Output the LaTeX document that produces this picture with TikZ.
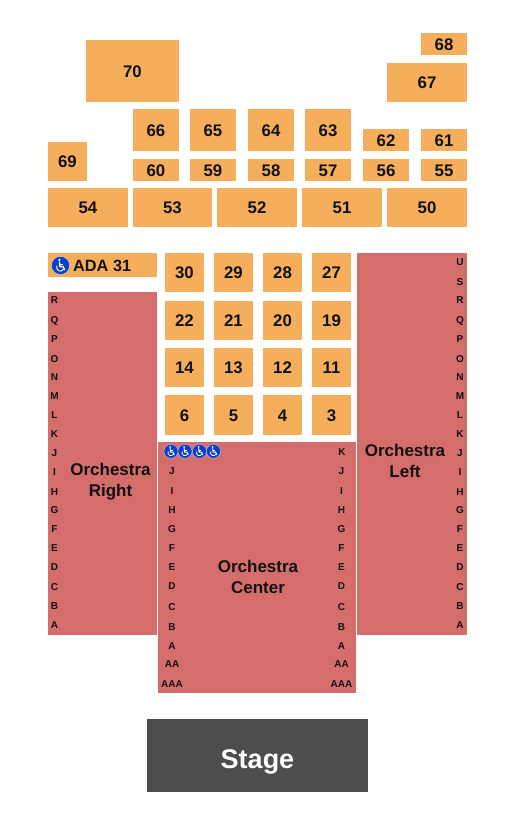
\documentclass[tikz,border=0pt]{standalone}
\usepackage{fontspec}
\setmainfont{Liberation Sans}[BoldFont={Liberation Sans Bold}]
\definecolor{orangeblk}{RGB}{245,174,92}
\definecolor{redblk}{RGB}{214,109,109}
\definecolor{stagegrey}{RGB}{77,77,77}
\definecolor{inkblk}{RGB}{17,17,17}
\definecolor{adablue}{RGB}{10,62,205}
\newcommand\blk[6]{\fill[orangeblk] (#2,#3) rectangle node[numlab] (#1) {#6} (#4,#5);}
\newcommand\rowlab[3]{\node[rowl] at (#1,#2) {#3};}
\tikzset{
  numlab/.style={inner sep=0pt,text=inkblk,text height=12pt,text depth=0pt,font=\fontsize{16.8}{17}\selectfont\bfseries},
  adalab/.style={inner sep=0pt,text=inkblk,text height=12pt,text depth=0pt,font=\fontsize{16.3}{17}\selectfont\bfseries},
  sectlab/.style={inner sep=0pt,text=inkblk,align=center,font=\fontsize{17}{21}\selectfont\bfseries},
  rowl/.style={inner sep=0pt,text=inkblk,text height=7.2pt,text depth=0pt,font=\fontsize{10}{10}\selectfont\bfseries},
  pics/wheel/.style={code={
    \fill[adablue,draw=white,draw opacity=.5,line width=.5pt] (0,0) circle (#1);
    \begin{scope}[x=#1*1pt,y=#1*-1pt]
      \fill[white] (-.12,-.62) circle (.14);
      \draw[white,line width=#1*.15pt,line join=round] (-.12,-.42) -- (-.06,.12) -- (.3,.12) -- (.46,.52);
      \draw[white,line width=#1*.11pt] (-.09,-.16) -- (.24,-.16);
      \draw[white,line width=#1*.11pt] (-.02,.2) ++(205:.42) arc[start angle=205,end angle=30,radius=.42];
    \end{scope}
  }}
}
\begin{document}
\begin{tikzpicture}[x=1pt,y=-1pt]
\useasboundingbox (0,0) rectangle (525,822);
% upper blocks
\blk{s70}{86}{40}{179}{102}{70}
\blk{s68}{421}{33}{467}{55}{68}
\blk{s67}{387}{63}{467}{102}{67}
\blk{s66}{133}{109}{179}{151}{66}
\blk{s65}{190}{109}{236}{151}{65}
\blk{s64}{248}{109}{294}{151}{64}
\blk{s63}{305}{109}{351}{151}{63}
\blk{s62}{363}{129}{409}{151}{62}
\blk{s61}{421}{129}{467}{151}{61}
\blk{s69}{48}{142}{87}{181}{69}
\blk{s60}{133}{159}{179}{181}{60}
\blk{s59}{190}{159}{236}{181}{59}
\blk{s58}{248}{159}{294}{181}{58}
\blk{s57}{305}{159}{351}{181}{57}
\blk{s56}{363}{159}{409}{181}{56}
\blk{s55}{421}{159}{467}{181}{55}
\blk{s54}{48}{188}{128}{227}{54}
\blk{s53}{133}{188}{212}{227}{53}
\blk{s52}{217}{188}{297}{227}{52}
\blk{s51}{302}{188}{382}{227}{51}
\blk{s50}{387}{188}{467}{227}{50}
% middle blocks
\blk{s30}{165}{253}{204}{292}{30}
\blk{s29}{214}{253}{253}{292}{29}
\blk{s28}{263}{253}{302}{292}{28}
\blk{s27}{312}{253}{351}{292}{27}
\blk{s22}{165}{301}{204}{340}{22}
\blk{s21}{214}{301}{253}{340}{21}
\blk{s20}{263}{301}{302}{340}{20}
\blk{s19}{312}{301}{351}{340}{19}
\blk{s14}{165}{348}{204}{387}{14}
\blk{s13}{214}{348}{253}{387}{13}
\blk{s12}{263}{348}{302}{387}{12}
\blk{s11}{312}{348}{351}{387}{11}
\blk{s6}{165}{395}{204}{435}{6}
\blk{s5}{214}{395}{253}{435}{5}
\blk{s4}{263}{395}{302}{435}{4}
\blk{s3}{312}{395}{351}{435}{3}
% ADA
\fill[orangeblk] (48,253) rectangle (157,277);
\pic at (60.5,265.5) {wheel=9};
\node[adalab,anchor=west] (ada) at (73,265.5) {ADA 31};
% orchestra
\fill[redblk] (48,292) rectangle (157,635);
\fill[redblk] (158,442) rectangle (356,693);
\fill[redblk] (357,253) rectangle (467,635);
\node[sectlab] (orchr) at (110.5,482) {Orchestra\\Right};
\node[sectlab] (orchc) at (258,576.5) {Orchestra\\Center};
\node[sectlab] (orchl) at (405,460.5) {Orchestra\\Left};
\foreach \px in {171,185,199.5,213.5} {\pic at (\px,451.3) {wheel=7};}
% row letters, right and left
\foreach \ly/\lt in {299.5/R,319.5/Q,338.5/P,358.5/O,376.5/N,396/M,414.5/L,433.5/K,453/J,472/I,492/H,510/G,529/F,548/E,567/D,587/C,606/B,625/A} {
  \rowlab{54.5}{\ly}{\lt}
  \rowlab{460}{\ly}{\lt}
}
\rowlab{460}{261.5}{U}
\rowlab{460}{281.5}{S}
% row letters, center
\rowlab{342}{451.5}{K}
\foreach \ly/\lt in {470.5/J,490.5/I,509.5/H,528.5/G,547.5/F,566.5/E,585.5/D,606.5/C,626.5/B,645.5/A,663.5/AA,683.5/AAA} {
  \rowlab{172}{\ly}{\lt}
  \rowlab{341.5}{\ly}{\lt}
}
% stage
\fill[stagegrey] (147,719) rectangle (368,792);
\node[inner sep=0pt,text=white,font=\fontsize{27}{27}\selectfont\bfseries] (stage) at (257.5,762) {Stage};
\end{tikzpicture}
\end{document}
